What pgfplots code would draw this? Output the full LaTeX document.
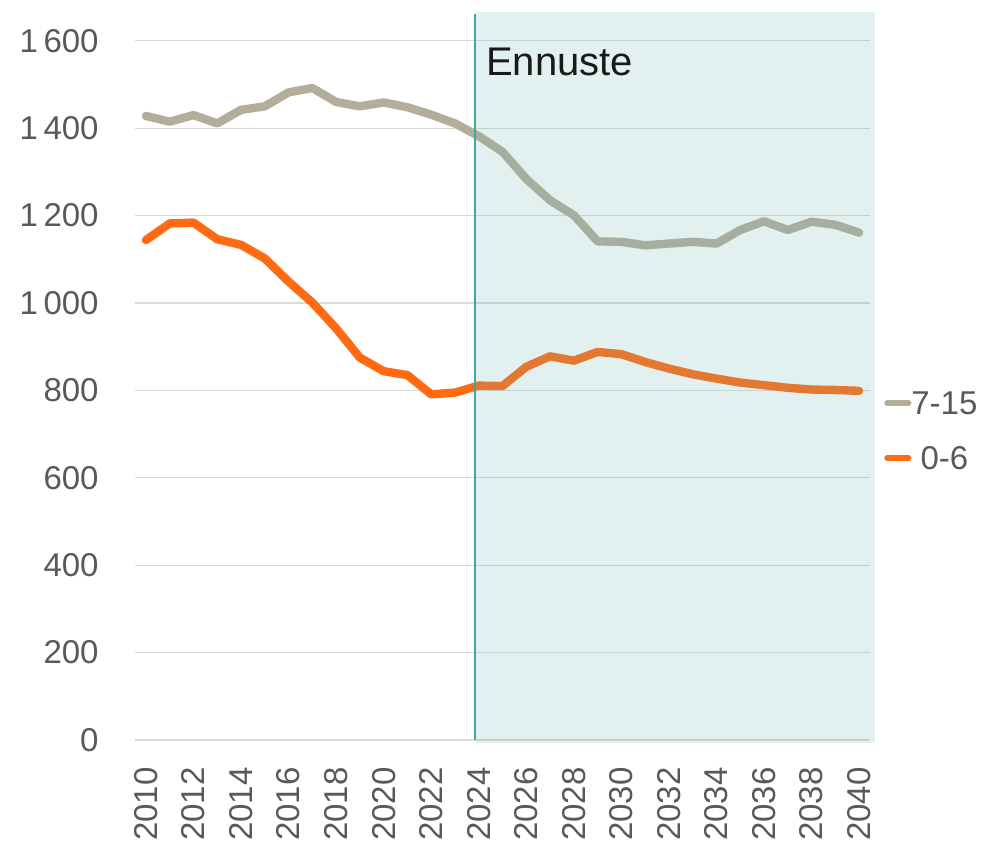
\documentclass[border=0pt]{standalone}
\usepackage{fontspec}
\setmainfont{Liberation Sans}
\usepackage{pgfplots}
\usepackage{pgfplotstable}
\pgfplotsset{compat=1.18}

\definecolor{olderline}{HTML}{B3AE9A}
\definecolor{youngline}{HTML}{FF6A13}
\definecolor{labelgray}{HTML}{595959}
\definecolor{gridgray}{HTML}{D9D9D9}
\definecolor{shade}{RGB}{115,180,180}
\definecolor{forecastline}{HTML}{3FA89C}

% 7-15 vuotiaat
\pgfplotstableread{
year value
2010 1428
2011 1415
2012 1430
2013 1411
2014 1442
2015 1450
2016 1482
2017 1492
2018 1460
2019 1450
2020 1459
2021 1448
2022 1431
2023 1411
2024 1382
2025 1346
2026 1284
2027 1235
2028 1201
2029 1141
2030 1140
2031 1132
2032 1136
2033 1140
2034 1136
2035 1167
2036 1187
2037 1167
2038 1186
2039 1179
2040 1161
}\olderdata

% 0-6 vuotiaat
\pgfplotstableread{
year value
2010 1144
2011 1182
2012 1184
2013 1146
2014 1133
2015 1102
2016 1049
2017 1001
2018 942
2019 875
2020 844
2021 835
2022 791
2023 795
2024 811
2025 810
2026 854
2027 878
2028 868
2029 888
2030 883
2031 865
2032 850
2033 837
2034 827
2035 818
2036 812
2037 806
2038 802
2039 801
2040 799
}\youngdata

\begin{document}
\begin{tikzpicture}
\begin{axis}[
    at={(0,0)}, anchor=south west,
    scale only axis,
    width=367.5pt, height=363.8pt,
    xmin=2009.54, xmax=2040.46,
    ymin=0, ymax=1665,
    clip=false,
    axis line style={draw=none},
    major tick length=0pt,
    xtick={2010,2012,...,2040},
    ytick={0,200,...,1600},
    ymajorgrids,
    grid style={gridgray, line width=0.6pt},
    /pgf/number format/assume math mode=true,
    /pgf/number format/1000 sep={\,},
    tick label style={text=labelgray, font=\fontsize{16.5}{19}\selectfont},
    xticklabel style={/pgf/number format/1000 sep={}, yshift=-13.5pt, rotate=90, anchor=east, inner sep=0pt},
    yticklabel style={anchor=east, inner sep=0pt, xshift=-18pt},
    legend style={at={(axis description cs:1.019,0.4254)}, anchor=west,
        draw=none, fill=none, inner sep=0pt, row sep=15.7pt,
        font=\fontsize{16.5}{19}\selectfont,
        nodes={inner sep=0pt, text=labelgray, text height=11.8pt, text depth=0pt},
        /tikz/every even column/.append style={column sep=1.5pt}},
    legend image code/.code={\draw[#1, line width=3pt, line cap=round] (2pt,0pt) -- (12.5pt,0pt);},
]
\addplot[olderline, line width=4.2pt, line join=round, line cap=round] table[x=year, y=value] {\olderdata};
\addlegendentry{7-15}
\addplot[youngline, line width=4.2pt, line join=round, line cap=round] table[x=year, y=value] {\youngdata};
\addlegendentry{0-6}

% ennustejakso
\addplot[draw=none, fill=shade, fill opacity=0.2, forget plot]
    coordinates {(2023.9,-7) (2040.67,-7) (2040.67,1665) (2023.9,1665)} -- cycle;
\addplot[draw=forecastline, line width=1pt, forget plot]
    coordinates {(2023.86,0) (2023.86,1662)};
\node[anchor=base west, inner sep=0pt, font=\fontsize{20}{24}\selectfont, text=black!90]
    at (axis cs:2024.3,1521) {Ennuste};
\end{axis}
\path (-67.5pt,-50pt) rectangle (424.5pt,370pt);
\end{tikzpicture}
\end{document}
